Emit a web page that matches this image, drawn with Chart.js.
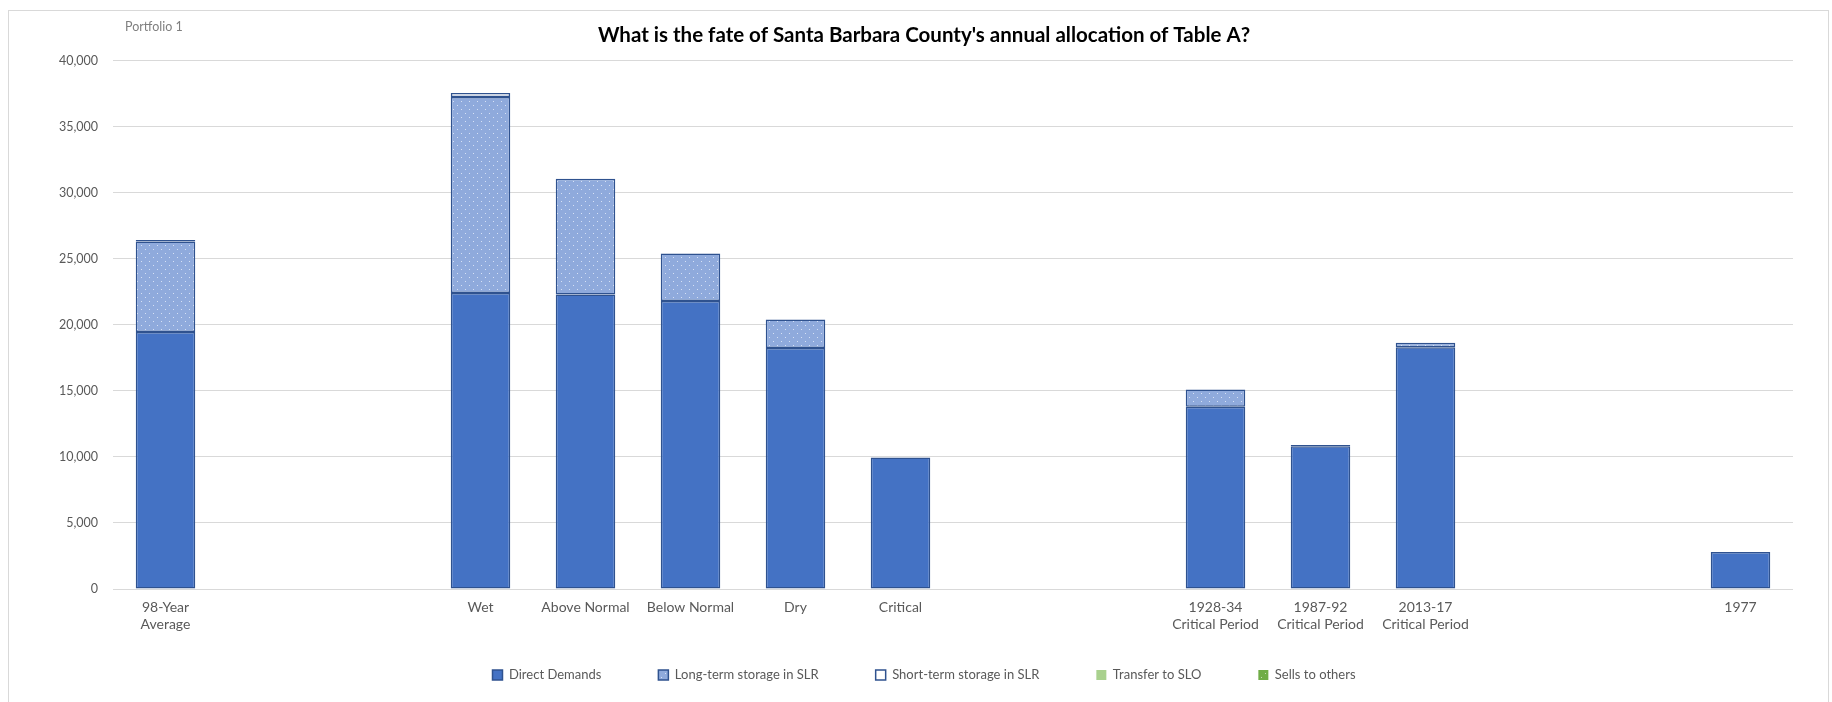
<!DOCTYPE html>
<html>
<head>
<meta charset="utf-8">
<script src="https://cdn.jsdelivr.net/npm/chart.js@4/dist/chart.umd.min.js"></script>
<style>
  html, body { margin: 0; padding: 0; background: #ffffff; }
  #wrap { position: relative; width: 1832px; height: 702px; }
</style>
</head>
<body>
<div id="wrap"><canvas id="c" width="1832" height="702"></canvas></div>
<script>
// ---- Data ----
const chartTitle = "What is the fate of Santa Barbara County's annual allocation of Table A?";
const cornerLabel = "Portfolio 1";
const categories = [
  ["98-Year", "Average"], "", "", "Wet", "Above Normal", "Below Normal", "Dry", "Critical",
  "", "", ["1928-34", "Critical Period"], ["1987-92", "Critical Period"], ["2013-17", "Critical Period"],
  "", "", "1977"
];
const directDemands    = [19450, null, null, 22400, 22300, 21800, 18250, 9950, null, null, 13800, 10800, 18300, null, null, 2800];
const longTermStorage  = [6850,  null, null, 14850, 8750,  3600,  2150,  0,    null, null, 1300,  0,     350,   null, null, 0];
const shortTermStorage = [120,   null, null, 300,   0,     0,     0,     0,    null, null, 0,     100,   0,     null, null, 0];
const transferToSLO    = [0,     null, null, 0,     0,     0,     0,     0,    null, null, 0,     0,     0,     null, null, 0];
const sellsToOthers    = [0,     null, null, 0,     0,     0,     0,     0,    null, null, 0,     0,     0,     null, null, 0];
const yTicks = [0, 5000, 10000, 15000, 20000, 25000, 30000, 35000, 40000];

// ---- Styles ----
function dotPattern(bg, dot) {
  const c = document.createElement('canvas');
  c.width = 8; c.height = 8;
  const g = c.getContext('2d');
  g.fillStyle = bg; g.fillRect(0, 0, 8, 8);
  g.fillStyle = dot;
  g.fillRect(1, 1, 1, 1);
  g.fillRect(5, 5, 1, 1);
  return g.createPattern(c, 'repeat');
}
const FONT = 'Lato, "Open Sans", sans-serif';
const border = (ctx) => (ctx.raw ? 1.5 : 0);

const datasets = [
  { label: 'Direct Demands', data: directDemands, backgroundColor: '#4472C4', borderColor: '#2F528F', borderWidth: border },
  { label: 'Long-term storage in SLR', data: longTermStorage, backgroundColor: dotPattern('#8FAADC', '#D6E1F5'), borderColor: '#2F528F', borderWidth: border },
  { label: 'Short-term storage in SLR', data: shortTermStorage, backgroundColor: '#FFFFFF', borderColor: '#2F528F', borderWidth: border },
  { label: 'Transfer to SLO', data: transferToSLO, backgroundColor: '#A9D18E', borderColor: '#548235', borderWidth: border },
  { label: 'Sells to others', data: sellsToOthers, backgroundColor: dotPattern('#70AD47', '#C5E0B4'), borderColor: '#385723', borderWidth: border }
].map(d => Object.assign(d, { barPercentage: 0.567, categoryPercentage: 1.0, borderSkipped: false }));

const framePlugin = {
  id: 'frame',
  afterLayout(chart) {
    // let the two-line category labels extend below the compact x-axis box
    chart.scales.x.bottom += 60;
  },
  beforeDraw(chart) {
    const g = chart.ctx;
    g.save();
    g.fillStyle = '#ffffff';
    g.fillRect(0, 0, chart.width, chart.height);
    g.strokeStyle = '#D9D9D9';
    g.lineWidth = 1;
    g.strokeRect(8.5, 10.5, 1820, 700);
    g.restore();
  },
  afterDraw(chart) {
    const g = chart.ctx;
    g.save();
    g.fillStyle = '#7F7F7F';
    g.font = '12.5px ' + FONT;
    g.textBaseline = 'middle';
    g.textAlign = 'left';
    g.fillText(cornerLabel, 125, 27);
    g.restore();
  }
};

new Chart(document.getElementById('c'), {
  type: 'bar',
  data: { labels: categories, datasets: datasets },
  plugins: [framePlugin],
  options: {
    responsive: false,
    animation: false,
    layout: { padding: { left: 55, right: 39, top: 0, bottom: 10.5 } },
    plugins: {
      title: {
        display: true, text: chartTitle, color: '#000000',
        font: { family: FONT, size: 20.5, weight: 'bold' },
        padding: { top: 23, bottom: 13 }
      },
      legend: {
        position: 'bottom',
        labels: {
          boxWidth: 10, boxHeight: 10, color: '#595959',
          font: { family: FONT, size: 13 }, padding: 57
        }
      },
      tooltip: { enabled: false }
    },
    scales: {
      x: {
        stacked: true,
        afterFit(s) { s.height = 22.5; },
        grid: { display: false, drawTicks: false },
        border: { display: false },
        ticks: { color: '#595959', font: { family: FONT, size: 14 }, maxRotation: 0, autoSkip: false, padding: 10 }
      },
      y: {
        stacked: true, min: 0, max: 40000,
        afterBuildTicks(s) { s.ticks = yTicks.map(v => ({ value: v })); },
        afterFit(s) { s.width = 58; },
        grid: { color: '#D9D9D9', drawTicks: false, lineWidth: 1 },
        border: { display: false },
        ticks: {
          color: '#595959', font: { family: FONT, size: 12.5 }, padding: 15,
          callback: v => v.toLocaleString('en-US')
        }
      }
    }
  }
});
</script>
</body>
</html>
